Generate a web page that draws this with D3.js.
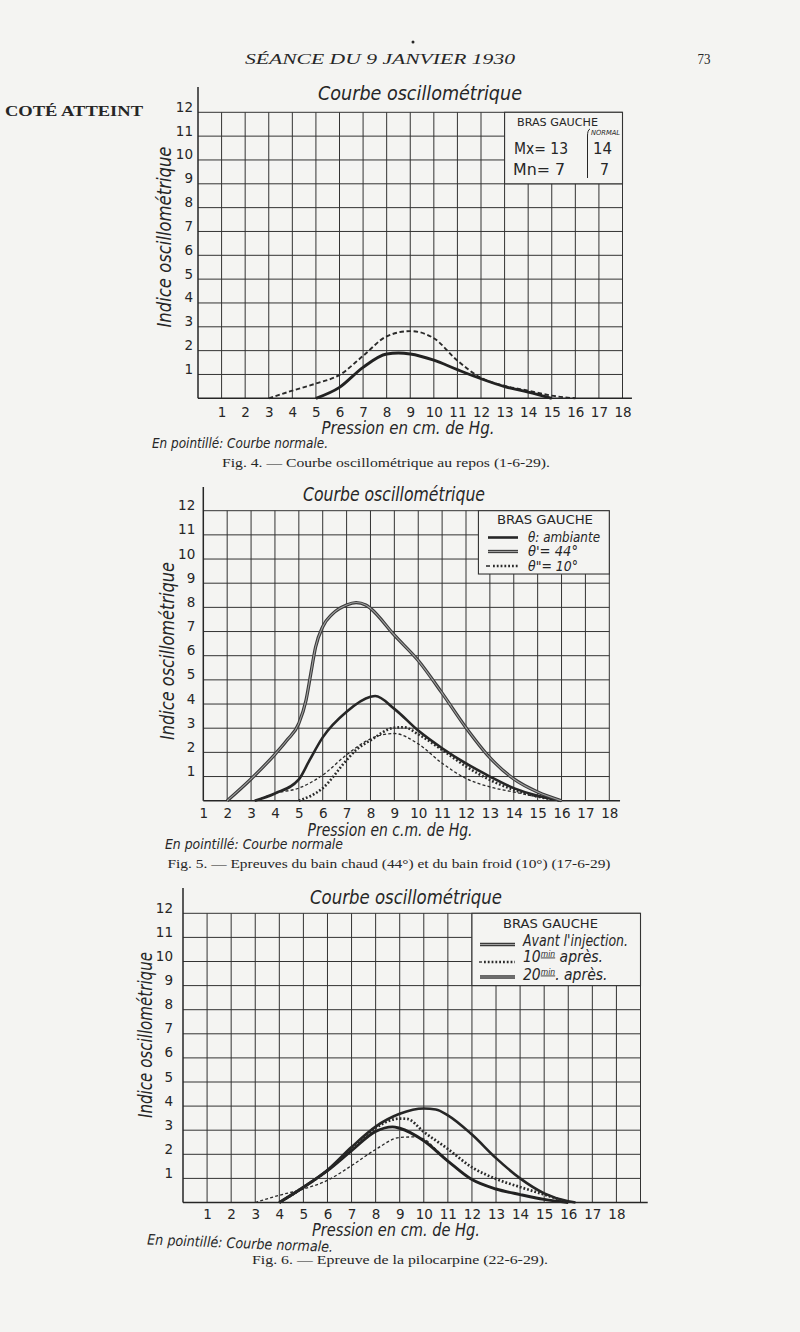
<!DOCTYPE html>
<html>
<head>
<meta charset="utf-8">
<script src="https://cdn.jsdelivr.net/npm/d3@7"></script>
<style>
  body { margin: 0; background: #f4f4f2; }
  svg { display: block; }
</style>
</head>
<body>
<div id="page"></div>
<script>
// ---- data ----
const pressureTicks = d3.range(1, 19);
const indexTicks = d3.range(1, 13);

// Fig. 4 — au repos
const fig4AtteintX = [5, 6, 7, 8, 8.5, 9, 10, 11, 12, 13, 14, 15];
const fig4AtteintY = [0, 0.46, 1.3, 1.86, 1.9, 1.86, 1.6, 1.2, 0.82, 0.49, 0.26, 0];
const fig4NormalX = [3, 4, 5, 6, 7, 8, 9, 10, 11, 12, 13, 14, 15, 16];
const fig4NormalY = [0, 0.32, 0.62, 0.98, 1.78, 2.6, 2.82, 2.52, 1.58, 0.86, 0.52, 0.32, 0.11, 0];
const fig4Legend = ['BRAS GAUCHE', 'NORMAL', 'Mx= 13', '14', 'Mn= 7', '7'];

// Fig. 5 — bain chaud / bain froid
const fig5AmbX = [3.15, 4, 5, 5.45, 6, 7, 8, 8.2, 9, 10, 11, 12, 13, 14, 15, 16];
const fig5AmbY = [0, 0.3, 0.88, 1.68, 2.62, 3.68, 4.3, 4.33, 3.8, 2.9, 2.17, 1.54, 1.0, 0.52, 0.2, 0];
const fig5WarmX = [2, 3, 4, 4.5, 5, 5.3, 5.5, 5.7, 6, 6.4, 7, 7.4, 7.8, 8, 9, 10, 11, 12, 13, 14, 15, 16];
const fig5WarmY = [0, 0.9, 1.92, 2.5, 3.2, 4.15, 5.25, 6.35, 7.2, 7.72, 8.1, 8.2, 8.1, 7.96, 6.85, 5.8, 4.45, 3.02, 1.78, 0.9, 0.36, 0];
const fig5ColdX = [5, 6, 7, 7.4, 8, 9, 9.4, 10, 11, 12, 13, 14, 15, 16];
const fig5ColdY = [0, 0.52, 1.68, 2.1, 2.5, 3.02, 3.04, 2.75, 2.1, 1.42, 0.86, 0.45, 0.17, 0];
const fig5NormalX = [3.2, 4, 5, 6, 7, 8, 9, 10, 11, 12, 13, 14, 15, 16];
const fig5NormalY = [0, 0.3, 0.52, 1.06, 1.9, 2.56, 2.78, 2.35, 1.55, 0.92, 0.57, 0.36, 0.16, 0];
const fig5Labels = ['θ: ambiante', 'θ\'= 44°', 'θ"= 10°'];

// Fig. 6 — pilocarpine
const fig6AvantX = [4, 5, 6, 7, 8, 8.7, 9, 10, 11, 12, 13, 14, 15, 16];
const fig6AvantY = [0, 0.63, 1.32, 2.15, 2.95, 3.14, 3.08, 2.56, 1.72, 0.95, 0.56, 0.33, 0.13, 0];
const fig6TenX = [4, 5, 6, 7, 8, 9, 9.3, 10, 11, 12, 13, 14, 15, 16];
const fig6TenY = [0, 0.63, 1.33, 2.22, 3.1, 3.48, 3.47, 2.93, 2.22, 1.46, 0.98, 0.64, 0.33, 0];
const fig6TwentyX = [4, 5, 6, 7, 8, 9, 10, 10.5, 11, 12, 13, 14, 15, 16, 16.3];
const fig6TwentyY = [0, 0.63, 1.35, 2.3, 3.15, 3.68, 3.9, 3.86, 3.62, 2.82, 1.84, 1.0, 0.38, 0.05, 0];
const fig6NormalX = [3, 4, 5, 6, 7, 8, 9, 9.6, 10, 10.5, 11, 12, 13, 14, 15, 16];
const fig6NormalY = [0, 0.3, 0.56, 0.92, 1.53, 2.2, 2.7, 2.72, 2.64, 2.2, 1.74, 0.95, 0.55, 0.33, 0.14, 0];
const fig6Labels = ['Avant l\'injection.', '10', '20'];

// ---- drawing ----
const PAPER = '#f4f4f2';
const INK = '#262626';
const HAND = '"DejaVu Sans Condensed", "DejaVu Sans", sans-serif';
const SERIF = '"Liberation Serif", "DejaVu Serif", serif';

const svg = d3.select('#page').append('svg')
  .attr('width', 800)
  .attr('height', 1332);

svg.append('rect').attr('width', 800).attr('height', 1332).attr('fill', PAPER);

const styles = {
  solid: [{ stroke: INK, width: 2.6 }],
  heavy: [{ stroke: '#222', width: 2.9 }],
  double: [{ stroke: '#3a3a3a', width: 3.3 }, { stroke: '#a0a0a0', width: 1.1 }],
  dashed: [{ stroke: '#2a2a2a', width: 1.9, dash: '4.5 2.6' }],
  fine: [{ stroke: '#2a2a2a', width: 1.3, dash: '3 2.2' }],
  plus: [{ stroke: '#2a2a2a', width: 2.6, dash: '1.8 2' }],
  beads: [{ stroke: '#2a2a2a', width: 2.7, dash: '1.8 2' }]
};

function strokeWith(sel, layer) {
  sel.attr('fill', 'none')
    .attr('stroke', layer.stroke)
    .attr('stroke-width', layer.width)
    .attr('stroke-dasharray', layer.dash || null)
    .attr('stroke-linejoin', 'round');
}

function handText(g, str, x, y, size, len, opts = {}) {
  const t = g.append('text')
    .attr('x', x)
    .attr('y', y)
    .attr('font-family', opts.family || HAND)
    .attr('font-style', opts.upright ? 'normal' : 'italic')
    .attr('font-weight', opts.weight || 'normal')
    .attr('font-size', size)
    .attr('fill', INK)
    .attr('text-anchor', opts.anchor || 'start')
    .text(str);
  if (len) t.attr('textLength', len).attr('lengthAdjust', 'spacingAndGlyphs');
  if (opts.transform) t.attr('transform', opts.transform);
  return t;
}

function drawChart(cfg) {
  const x = d3.scaleLinear().domain(cfg.xDomain).range(cfg.xRange);
  const y = d3.scaleLinear().domain([0, 12]).range(cfg.yRange);
  const g = svg.append('g');
  const x0 = cfg.xDomain[0];

  // grid
  const grid = g.append('g').attr('stroke', '#333').attr('stroke-width', 1);
  grid.selectAll('.vgrid')
    .data(d3.range(x0 + 1, cfg.gridMax + 1))
    .join('line')
    .attr('x1', d => x(d)).attr('x2', d => x(d))
    .attr('y1', y(0)).attr('y2', y(12));
  grid.selectAll('.hgrid')
    .data(indexTicks)
    .join('line')
    .attr('x1', x(x0)).attr('x2', x(cfg.gridMax))
    .attr('y1', d => y(d)).attr('y2', d => y(d));

  // axes lines
  g.append('line')
    .attr('x1', x(x0)).attr('x2', x(x0))
    .attr('y1', y(0)).attr('y2', cfg.axisTop)
    .attr('stroke', INK).attr('stroke-width', 1.5);
  g.append('line')
    .attr('x1', x(x0)).attr('x2', x(cfg.baseEnd))
    .attr('y1', y(0)).attr('y2', y(0))
    .attr('stroke', INK).attr('stroke-width', 1.6);

  // legend box
  const lb = cfg.legendBox;
  g.append('rect')
    .attr('x', x(lb.x[0])).attr('y', y(lb.y[1]))
    .attr('width', x(lb.x[1]) - x(lb.x[0]))
    .attr('height', y(lb.y[0]) - y(lb.y[1]))
    .attr('fill', PAPER).attr('stroke', '#333').attr('stroke-width', 1.1);

  // curves
  const line = d3.line()
    .x(d => x(d[0]))
    .y(d => y(d[1]))
    .curve(d3.curveMonotoneX);
  cfg.series.forEach(s => {
    const pts = d3.zip(s.x, s.y);
    styles[s.style].forEach(layer => {
      g.append('path').datum(pts).attr('d', line).call(strokeWith, layer);
    });
  });

  // tick labels
  const yAxis = g.append('g')
    .attr('transform', `translate(${x(x0)},0)`)
    .call(d3.axisLeft(y).tickValues(indexTicks).tickSize(0).tickPadding(cfg.yPad).tickFormat(d3.format('d')));
  const xAxis = g.append('g')
    .attr('transform', `translate(0,${y(0)})`)
    .call(d3.axisBottom(x).tickValues(pressureTicks).tickSize(0).tickPadding(cfg.xPad).tickFormat(d3.format('d')));
  [yAxis, xAxis].forEach(a => {
    a.select('.domain').remove();
    a.selectAll('text')
      .attr('font-family', '"DejaVu Sans", sans-serif')
      .attr('font-size', 13.5)
      .attr('fill', INK);
  });
  yAxis.selectAll('text').attr('dy', 0).attr('y', -1);

  // titles
  handText(g, 'Courbe oscillométrique', cfg.title.x, cfg.title.y, 19.5, cfg.title.len, { anchor: 'middle' });
  handText(g, 'Indice oscillométrique', 0, 0, 19, cfg.yTitle.len,
    { anchor: 'middle', transform: `translate(${cfg.yTitle.x},${cfg.yTitle.y}) rotate(-90)` });
  handText(g, cfg.xTitle.text, cfg.xTitle.x, cfg.xTitle.y, 17.5, cfg.xTitle.len, { anchor: 'middle' });
  handText(g, cfg.note.text, cfg.note.x, cfg.note.y, 14.5, cfg.note.len,
    { transform: cfg.note.rot ? `rotate(${cfg.note.rot},${cfg.note.x},${cfg.note.y})` : null });
  handText(g, cfg.caption.text, cfg.caption.x, cfg.caption.y, 12.5, cfg.caption.len,
    { anchor: 'middle', upright: true, family: SERIF });

  return { g, x, y };
}

// ---- page header ----
svg.append('circle').attr('cx', 413).attr('cy', 42).attr('r', 1.5).attr('fill', INK);
handText(svg, 'SÉANCE DU 9 JANVIER 1930', 380, 64, 15, 270, { anchor: 'middle', family: SERIF });
handText(svg, '73', 704, 64, 14, 13, { anchor: 'middle', upright: true, family: SERIF });
handText(svg, 'COTÉ ATTEINT', 5, 116, 15.5, 138, { upright: true, family: SERIF, weight: 'bold' });

// ---- Fig. 4 ----
const c1 = drawChart({
  xDomain: [0, 18], xRange: [198, 622.5], yRange: [398.3, 112.3],
  gridMax: 18, baseEnd: 18.4, axisTop: 87, yPad: 5, xPad: 8.7,
  legendBox: { x: [13, 18], y: [9, 12] },
  series: [
    { x: fig4NormalX, y: fig4NormalY, style: 'dashed' },
    { x: fig4AtteintX, y: fig4AtteintY, style: 'heavy' }
  ],
  title: { x: 420, y: 100, len: 204 },
  yTitle: { x: 171, y: 237, len: 181 },
  xTitle: { text: 'Pression en cm. de Hg.', x: 408, y: 434, len: 173 },
  note: { text: 'En pointillé: Courbe normale.', x: 152, y: 448, len: 176 },
  caption: { text: 'Fig. 4. — Courbe oscillométrique au repos (1-6-29).', x: 386, y: 467, len: 328 }
});
handText(c1.g, fig4Legend[0], 517, 125.5, 10.5, 81, { upright: true });
handText(c1.g, fig4Legend[1], 591, 135, 7, 29);
handText(c1.g, fig4Legend[2], 514, 154, 16.5, 54, { upright: true });
handText(c1.g, fig4Legend[3], 593, 154, 16.5, 19, { upright: true });
handText(c1.g, fig4Legend[4], 513, 175, 16.5, 52, { upright: true });
handText(c1.g, fig4Legend[5], 600, 175, 16.5, 9, { upright: true });
c1.g.append('path')
  .attr('d', 'M590,129 Q587.5,130 587.5,136 L587.5,178')
  .attr('fill', 'none').attr('stroke', INK).attr('stroke-width', 1);

// ---- Fig. 5 ----
const c2 = drawChart({
  xDomain: [1, 18], xRange: [203.3, 609.3], yRange: [800.7, 510.7],
  gridMax: 18, baseEnd: 18.45, axisTop: 487, yPad: 8, xPad: 7.3,
  legendBox: { x: [12.52, 18], y: [9.38, 12] },
  series: [
    { x: fig5NormalX, y: fig5NormalY, style: 'fine' },
    { x: fig5ColdX, y: fig5ColdY, style: 'plus' },
    { x: fig5AmbX, y: fig5AmbY, style: 'solid' },
    { x: fig5WarmX, y: fig5WarmY, style: 'double' }
  ],
  title: { x: 394, y: 501, len: 182 },
  yTitle: { x: 174, y: 651, len: 178 },
  xTitle: { text: 'Pression en c.m. de Hg.', x: 390, y: 836, len: 165 },
  note: { text: 'En pointillé: Courbe normale', x: 165, y: 849, len: 178 },
  caption: { text: 'Fig. 5. — Epreuves du bain chaud (44°) et du bain froid (10°) (17-6-29)', x: 389, y: 868, len: 443 }
});
handText(c2.g, 'BRAS GAUCHE', 497, 523.5, 12, 96, { upright: true });
const fig5Rows = [
  { style: 'solid', ly: 537.5, ty: 542 },
  { style: 'double', ly: 551.5, ty: 556 },
  { style: 'plus', ly: 566, ty: 570.5 }
];
fig5Rows.forEach((r, i) => {
  const start = i === 2 ? 493 : 488;
  if (i === 2) {
    c2.g.append('line').attr('x1', 486).attr('x2', 490).attr('y1', r.ly).attr('y2', r.ly)
      .attr('stroke', INK).attr('stroke-width', 1.5);
  }
  styles[r.style].forEach(layer => {
    c2.g.append('line').attr('x1', start).attr('x2', 518).attr('y1', r.ly).attr('y2', r.ly)
      .call(strokeWith, layer);
  });
  handText(c2.g, fig5Labels[i], 528, r.ty, 14.5, [72, 50, 50][i]);
});

// ---- Fig. 6 ----
const c3 = drawChart({
  xDomain: [0, 19], xRange: [183, 640.5], yRange: [1202.5, 913.3],
  gridMax: 19, baseEnd: 19.3, axisTop: 888, yPad: 10, xPad: 6.5,
  legendBox: { x: [12, 19], y: [9, 12] },
  series: [
    { x: fig6NormalX, y: fig6NormalY, style: 'fine' },
    { x: fig6AvantX, y: fig6AvantY, style: 'heavy' },
    { x: fig6TenX, y: fig6TenY, style: 'beads' },
    { x: fig6TwentyX, y: fig6TwentyY, style: 'solid' }
  ],
  title: { x: 406, y: 904, len: 192 },
  yTitle: { x: 152, y: 1035, len: 166 },
  xTitle: { text: 'Pression en cm. de Hg.', x: 396, y: 1236, len: 168 },
  note: { text: 'En pointillé: Courbe normale.', x: 147, y: 1244.5, len: 186, rot: 2.3 },
  caption: { text: 'Fig. 6. — Epreuve de la pilocarpine (22-6-29).', x: 400, y: 1264, len: 296 }
});
handText(c3.g, 'BRAS GAUCHE', 503, 927.5, 12.5, 95, { upright: true });
const fig6Rows = [
  { style: 'double', ly: 944.5, ty: 946 },
  { style: 'beads', ly: 962, ty: 961.5 },
  { style: 'double', ly: 977, ty: 979.5 }
];
fig6Rows.forEach((r, i) => {
  styles[r.style].forEach(layer => {
    c3.g.append('line').attr('x1', i === 1 ? 484 : 480).attr('x2', 515).attr('y1', r.ly).attr('y2', r.ly)
      .call(strokeWith, layer);
  });
  if (i === 1) {
    c3.g.append('line').attr('x1', 479).attr('x2', 482).attr('y1', r.ly).attr('y2', r.ly)
      .attr('stroke', INK).attr('stroke-width', 1.3);
  }
});
handText(c3.g, fig6Labels[0], 523, 946, 16.5, 105);
[1, 2].forEach(i => {
  const t = handText(c3.g, '', 523, fig6Rows[i].ty, 15.5, null);
  t.append('tspan').text(fig6Labels[i]);
  t.append('tspan').attr('font-size', 8.5).attr('dy', -5).attr('text-decoration', 'underline').text('min');
  t.append('tspan').attr('dy', 5).text(i === 1 ? ' après.' : '. après.');
});
</script>
</body>
</html>
